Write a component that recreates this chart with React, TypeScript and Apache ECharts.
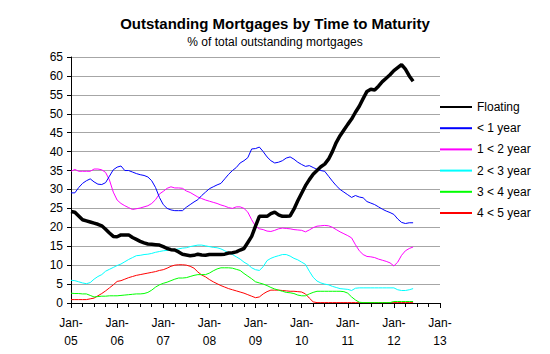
import React, { useEffect, useRef } from "react";
import * as echarts from "echarts";

// Monthly values, Jan-2005 (index 0) to Jun-2012 (index 89)
const floating = [
  24.2, 24.0, 23.0, 22.0, 21.7, 21.4, 21.1, 20.8, 20.4, 19.5, 18.5, 17.6,
  17.5, 18.0, 18.0, 18.0, 17.3, 16.8, 16.3, 15.9, 15.6, 15.5, 15.4, 15.3,
  14.9, 14.4, 14.1, 14.0, 13.5, 12.9, 12.7, 12.5, 12.6, 12.9, 12.7, 12.6,
  12.8, 12.8, 12.8, 12.8, 12.9, 13.2, 13.3, 13.5, 14.0, 14.4, 16.0, 17.6,
  20.3, 22.9, 22.9, 22.9, 23.6, 24.0, 23.3, 22.9, 22.9, 23.0, 24.8, 27.0,
  29.0, 31.0, 32.6, 34.0, 35.0, 36.0, 36.7, 38.0, 40.0, 42.4, 44.2, 45.7,
  47.2, 48.6, 50.4, 52.0, 54.0, 55.9, 56.5, 56.3, 57.3, 58.5, 59.4, 60.3,
  61.4, 62.2, 63.0, 61.8, 60.0, 58.6,
];
const underOne = [
  29.1, 29.1, 30.5, 31.6, 32.3, 32.8, 32.0, 31.4, 31.3, 31.8, 33.5, 35.2,
  35.9, 36.2, 35.0, 35.0, 34.6, 34.2, 33.9, 33.7, 33.3, 32.3, 30.5, 27.9,
  26.0, 25.0, 24.6, 24.4, 24.4, 24.4, 25.3, 26.0, 26.7, 27.3, 28.4, 29.3,
  30.2, 30.7, 31.2, 31.6, 32.8, 34.0, 35.0, 35.8, 37.0, 37.6, 38.4, 40.7,
  40.8, 41.2, 40.0, 38.6, 37.6, 37.0, 37.2, 37.6, 38.3, 38.6, 38.0, 37.2,
  36.6, 36.1, 36.3, 35.8, 35.3, 35.0, 34.8, 33.5, 32.2, 31.0, 30.0, 29.3,
  28.6, 27.9, 28.4, 28.0, 27.8, 26.8, 26.4, 26.0, 25.4, 24.8, 24.3, 23.9,
  23.4, 22.2, 21.3, 21.0, 21.2, 21.2,
];
const oneToTwo = [
  34.8, 35.3, 34.8, 34.8, 34.8, 34.8, 35.4, 35.4, 35.2, 34.5, 32.5, 29.3,
  27.2, 26.3, 25.7, 25.2, 24.7, 24.9, 25.1, 25.4, 25.7, 26.3, 27.3, 28.8,
  29.5, 30.3, 30.7, 30.4, 30.4, 30.3, 29.6, 29.2, 28.6, 28.0, 27.6, 27.2,
  26.9, 26.6, 26.3, 25.9, 25.6, 25.2, 25.0, 25.4, 25.4, 25.0, 24.0, 22.0,
  20.3, 19.6, 19.4, 19.0, 18.9, 19.2, 19.6, 19.8, 19.7, 19.6, 19.4, 19.3,
  19.2, 18.8, 19.3, 19.9, 20.3, 20.4, 20.5, 20.4, 20.0, 19.4, 18.8, 18.3,
  17.8, 17.2, 15.4, 13.8, 12.8, 12.3, 12.2, 12.0, 11.6, 11.3, 11.0, 10.6,
  9.8, 10.8, 12.6, 13.8, 14.4, 14.8,
];
const twoToThree = [
  6.0, 5.9, 5.6, 5.3, 5.1, 5.4, 6.3, 7.0, 7.5, 8.4, 8.9, 9.4,
  9.9, 10.3, 10.9, 11.5, 12.0, 12.5, 12.6, 12.8, 12.9, 13.1, 13.4, 13.6,
  13.8, 13.9, 14.0, 14.1, 14.3, 14.5, 14.6, 14.9, 15.1, 15.3, 15.3, 15.1,
  14.9, 14.7, 14.6, 14.3, 13.8, 13.2, 12.8, 12.2, 11.6, 10.8, 10.2, 9.3,
  8.8, 8.6, 9.6, 11.2, 11.8, 12.2, 12.5, 12.8, 12.8, 12.4, 11.8, 11.4,
  10.8, 10.2, 8.4, 6.8, 5.8, 5.3, 5.0, 4.8, 4.4, 4.1, 3.8, 3.7,
  3.6, 3.3, 3.9, 4.0, 4.0, 4.0, 4.0, 4.0, 4.0, 4.0, 4.0, 4.0,
  4.0, 3.5, 3.3, 3.3, 3.5, 3.8,
];
const threeToFour = [
  2.6, 2.5, 2.5, 2.4, 2.4, 2.0, 1.6, 1.7, 1.8, 1.8, 1.9, 1.9,
  1.9, 2.0, 2.1, 2.2, 2.3, 2.4, 2.4, 2.5, 2.8, 3.4, 4.2, 4.8,
  5.2, 5.5, 5.9, 6.3, 6.6, 6.6, 6.7, 7.0, 7.3, 7.5, 7.5, 7.5,
  7.9, 8.5, 9.0, 9.3, 9.3, 9.3, 9.2, 8.9, 8.6, 7.8, 7.1, 6.4,
  5.6, 5.3, 5.0, 4.6, 4.1, 3.7, 3.4, 3.1, 2.8, 2.7, 2.5, 2.1,
  1.9, 1.9, 2.4, 2.8, 3.1, 3.1, 3.1, 3.1, 3.1, 3.1, 3.1, 3.0,
  2.6, 1.6, 0.8, 0.2, 0.1, 0.1, 0.1, 0.1, 0.1, 0.1, 0.1, 0.1,
  0.4, 0.4, 0.4, 0.4, 0.4, 0.4,
];
const fourToFive = [
  0.9, 0.9, 0.9, 0.9, 0.9, 1.1, 1.3, 1.9, 2.5, 3.2, 4.0, 4.8,
  5.7, 5.9, 6.3, 6.7, 7.0, 7.3, 7.5, 7.7, 7.9, 8.1, 8.3, 8.6,
  8.8, 9.2, 9.7, 10.0, 10.1, 10.1, 10.0, 9.7, 9.2, 8.2, 7.4, 6.9,
  6.2, 5.6, 5.1, 4.6, 4.2, 3.8, 3.5, 3.2, 2.9, 2.6, 2.2, 1.8,
  1.4, 1.6, 2.4, 3.0, 3.4, 3.4, 3.4, 3.3, 3.2, 3.1, 3.1, 3.0,
  2.9, 2.4, 1.3, 0.3, 0.1, 0.1, 0.1, 0.1, 0.1, 0.1, 0.1, 0.1,
  0.1, 0.1, 0.1, 0.1, 0.1, 0.1, 0.1, 0.1, 0.1, 0.1, 0.1, 0.1,
  0.1, 0.1, 0.1, 0.1, 0.1, 0.1,
];

const seriesNames = ["Floating", "< 1 year", "1 < 2 year", "2 < 3 year", "3 < 4 year", "4 < 5 year"];
const seriesColors = ["#000000", "#0000FF", "#FF00FF", "#00FFFF", "#00FF00", "#FF0000"];
const seriesWidths = [3.5, 1, 1, 1, 1, 1];
const seriesValues = [floating, underOne, oneToTwo, twoToThree, threeToFour, fourToFive];
const yearLabels = ["05", "06", "07", "08", "09", "10", "11", "12", "13"];

const TITLE = "Outstanding Mortgages by Time to Maturity";
const SUBTITLE = "% of total outstanding mortgages";
const FONT = "'Liberation Sans', Arial, sans-serif";

export default function App() {
  const ref = useRef<HTMLDivElement>(null);
  useEffect(() => {
    if (!ref.current) return;
    const chart = echarts.init(ref.current, undefined, { renderer: "svg" });
    chart.setOption({
      animation: false,
      backgroundColor: "#ffffff",
      textStyle: { fontFamily: FONT },
      title: [
        {
          text: TITLE,
          left: "center",
          top: 11,
          textStyle: { fontSize: 15, fontWeight: "bold", color: "#000", fontFamily: FONT },
        },
        {
          text: SUBTITLE,
          left: "center",
          top: 31,
          textStyle: { fontSize: 12, fontWeight: "normal", color: "#000", fontFamily: FONT },
        },
      ],
      legend: {
        orient: "vertical",
        left: 434,
        top: 96,
        itemWidth: 32,
        itemHeight: 14,
        itemGap: 9.2,
        itemStyle: { opacity: 0 },
        textStyle: { fontSize: 12, color: "#000", fontFamily: FONT },
        data: seriesNames,
      },
      grid: { left: 71, right: 110, top: 57, bottom: 51 },
      xAxis: {
        type: "value",
        min: 0,
        max: 96,
        interval: 12,
        axisLine: { show: true, lineStyle: { color: "#000", width: 1 } },
        axisTick: { show: true, length: 5, lineStyle: { color: "#000" } },
        minorTick: { show: true, splitNumber: 4, length: 4, lineStyle: { color: "#000" } },
        splitLine: { show: false },
        axisLabel: {
          formatter: (v: number) => `Jan-\n${yearLabels[Math.round(v / 12)]}`,
          fontSize: 12,
          lineHeight: 18,
          color: "#000",
          margin: 11,
          fontFamily: FONT,
        },
      },
      yAxis: {
        type: "value",
        min: 0,
        max: 65,
        interval: 5,
        axisLine: { show: true, lineStyle: { color: "#000", width: 1 } },
        axisTick: { show: true, length: 4, lineStyle: { color: "#000" } },
        splitLine: { show: true, lineStyle: { color: "#a6a6a6", width: 1 } },
        axisLabel: { fontSize: 12, color: "#000", margin: 8, fontFamily: FONT },
      },
      series: seriesNames.map((name, i) => ({
        name,
        type: "line",
        symbol: "none",
        color: seriesColors[i],
        lineStyle: { color: seriesColors[i], width: seriesWidths[i] },
        data: seriesValues[i].map((v, m) => [m, v]),
        z: i === 0 ? 10 : 5 - i,
      })),
    });
    return () => chart.dispose();
  }, []);
  return <div ref={ref} style={{ width: 550, height: 354, marginLeft: -8, marginTop: -8 }} />;
}
